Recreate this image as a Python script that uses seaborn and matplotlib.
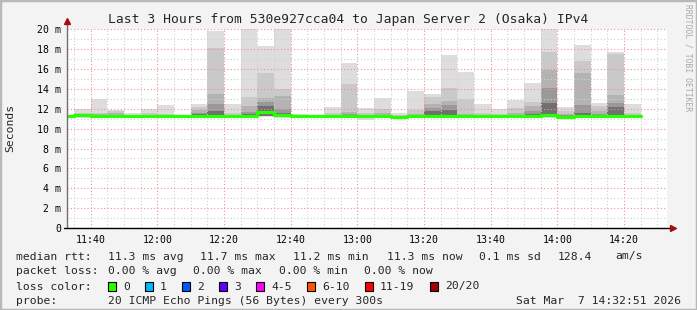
import matplotlib
matplotlib.use("Agg")
import matplotlib.pyplot as plt
from matplotlib.patches import Rectangle
from matplotlib.ticker import FixedLocator, MultipleLocator
import numpy as np
import pandas as pd
import seaborn as sns

# ---------------- data ----------------
first_slot = "11:30"          # 5-minute slots, 20 pings each
slot_minutes = 5
x_start = "11:32:51"
x_end = "14:32:51"
x_tick_labels = ["11:40", "12:00", "12:20", "12:40", "13:00", "13:20", "13:40", "14:00", "14:20"]
y_ticks = [0, 2, 4, 6, 8, 10, 12, 14, 16, 18, 20]
y_tick_labels = ["0", "2 m", "4 m", "6 m", "8 m", "10 m", "12 m", "14 m", "16 m", "18 m", "20 m"]

median_rtt = [11.30, 11.33, 11.27, 11.26, 11.26, 11.30, 11.25, 11.26, 11.26, 11.30,
              11.26, 11.30, 11.65, 11.35, 11.25, 11.25, 11.26, 11.26, 11.28, 11.26,
              11.22, 11.26, 11.27, 11.27, 11.26, 11.26, 11.26, 11.26, 11.27, 11.42,
              11.22, 11.26, 11.26, 11.30, 11.28]
ping_max = [11.40, 12.00, 12.95, 11.85, 11.55, 12.00, 12.35, 11.35, 12.45, 19.80,
            12.45, 20.50, 18.30, 20.50, 11.50, 11.35, 12.15, 16.60, 12.05, 13.05,
            11.60, 13.80, 13.50, 17.40, 15.70, 12.45, 12.00, 12.85, 14.60, 20.50,
            12.15, 18.40, 12.55, 17.75, 12.45]
smoke_band2 = [11.35, 11.55, 11.60, 11.75, 11.40, 11.55, 11.45, 11.30, 12.20, 18.10,
               11.55, 13.20, 15.60, 13.95, 11.35, 11.30, 11.60, 14.45, 11.55, 12.00,
               11.40, 11.85, 13.20, 14.10, 13.00, 11.60, 11.50, 12.10, 12.65, 17.75,
               11.75, 16.80, 12.25, 17.55, 11.60]
smoke_band3 = [11.32, 11.42, 11.45, 11.55, 11.32, 11.40, 11.35, 11.28, 11.85, 13.45,
               11.40, 12.30, 13.05, 13.30, 11.30, 11.28, 11.40, 11.70, 11.40, 11.55,
               11.30, 11.50, 12.45, 12.75, 11.50, 11.40, 11.35, 11.60, 12.30, 15.95,
               11.50, 15.60, 11.75, 13.35, 11.40]
smoke_band4 = [11.31, 11.36, 11.36, 11.40, 11.28, 11.34, 11.30, 11.27, 11.60, 12.45,
               11.32, 11.70, 12.70, 12.00, 11.27, 11.26, 11.32, 11.45, 11.33, 11.40,
               11.25, 11.38, 12.10, 12.35, 11.38, 11.32, 11.30, 11.40, 11.80, 14.10,
               11.35, 12.35, 11.50, 12.60, 11.34]
smoke_band5 = [11.30, 11.34, 11.30, 11.32, 11.27, 11.32, 11.27, 11.26, 11.45, 11.80,
               11.28, 11.45, 12.30, 11.60, 11.26, 11.25, 11.28, 11.32, 11.30, 11.30,
               11.23, 11.30, 11.75, 11.85, 11.30, 11.28, 11.27, 11.30, 11.50, 12.60,
               11.25, 11.60, 11.35, 12.20, 11.30]
ping_min = [11.10, 11.10, 11.05, 11.05, 11.10, 11.10, 11.10, 11.10, 11.05, 11.05,
            11.10, 11.05, 11.15, 11.05, 11.10, 11.10, 11.10, 11.05, 10.85, 11.05,
            11.10, 11.05, 11.05, 11.05, 11.05, 11.10, 11.05, 11.05, 11.05, 11.05,
            11.10, 11.05, 11.05, 11.05, 11.10]
smoke_inner_low = [11.20, 11.20, 11.18, 11.18, 11.20, 11.20, 11.18, 11.20, 11.18, 11.18,
                   11.20, 11.18, 11.30, 11.18, 11.20, 11.20, 11.20, 11.18, 11.15, 11.18,
                   11.15, 11.18, 11.18, 11.18, 11.18, 11.20, 11.18, 11.18, 11.18, 11.20,
                   11.15, 11.18, 11.18, 11.18, 11.20]

loss_labels = ["0", "1", "2", "3", "4-5", "6-10", "11-19", "20/20"]
loss_colors = ["#26ff00", "#00b8ff", "#0059ff", "#5e00ff", "#ff00ff", "#ff5500", "#ff0000", "#a10000"]

title = "Last 3 Hours from 530e927cca04 to Japan Server 2 (Osaka) IPv4"
stats_rtt = ["median rtt:", "11.3 ms avg", "11.7 ms max", "11.2 ms min", "11.3 ms now", "0.1 ms sd", "128.4", "am/s"]
stats_loss = ["packet loss:", "0.00 % avg", "0.00 % max", "0.00 % min", "0.00 % now"]
probe_text = ["probe:", "20 ICMP Echo Pings (56 Bytes) every 300s", "Sat Mar  7 14:32:51 2026"]


def to_min(s):
    parts = [float(p) for p in s.split(":")]
    return parts[0] * 60 + parts[1] + (parts[2] / 60 if len(parts) > 2 else 0)


n = len(median_rtt)
slot_x = np.array([to_min(first_slot) + slot_minutes * i for i in range(n)])

# ---------------- figure ----------------
W, H = 697, 310
sns.set_style("white")
plt.rcParams["font.family"] = ["DejaVu Sans Mono", "DejaVu Sans"]
fig = plt.figure(figsize=(W / 100, H / 100), dpi=100)
fig.patch.set_facecolor("#f3f3f3")

def fx(px):
    return px / W

def fy(py):
    return 1 - py / H

ax = fig.add_axes([fx(67), fy(228), 600 / W, (228 - 29.3) / H])
ax.set_facecolor("white")

layers = [
    (ping_min, ping_max, "#dddddd"),
    (smoke_inner_low, smoke_band2, "#c9c9c9"),
    (smoke_inner_low, smoke_band3, "#b3b3b3"),
    (smoke_inner_low, smoke_band4, "#999999"),
    (smoke_inner_low, smoke_band5, "#707070"),
]
for lo, hi, col in layers:
    lo = np.array(lo); hi = np.array(hi)
    ax.bar(slot_x, hi - lo, bottom=lo, width=slot_minutes, align="edge",
           color=col, linewidth=0, zorder=1)

df = pd.DataFrame({
    "t": list(slot_x) + [slot_x[-1] + slot_minutes],
    "rtt": list(median_rtt) + [median_rtt[-1]],
})
sns.lineplot(data=df, x="t", y="rtt", ax=ax, color="#26ff00", lw=2.3,
             drawstyle="steps-post", zorder=4, estimator=None)

ax.set_xlim(to_min(x_start), to_min(x_end))
ax.set_ylim(0, 20)
ax.xaxis.set_major_locator(FixedLocator([to_min(t) for t in x_tick_labels]))
ax.set_xticklabels(x_tick_labels)
ax.xaxis.set_minor_locator(MultipleLocator(5))
ax.set_yticks(y_ticks)
ax.set_yticklabels(y_tick_labels)
ax.yaxis.set_minor_locator(MultipleLocator(1))
ax.set_xlabel("")
ax.set_ylabel("")

ax.set_axisbelow(False)
ax.grid(which="minor", color="#cfcfcf", linestyle=(0, (1, 2)), lw=0.8)
ax.grid(which="major", color="#f09090", linestyle=(0, (1, 2)), lw=0.8)
ax.tick_params(axis="both", which="both", length=0, labelsize=7.1, colors="black")
ax.tick_params(axis="x", pad=5)
ax.tick_params(axis="y", pad=4)

for s in ["top", "right", "left", "bottom"]:
    ax.spines[s].set_visible(False)
# axes lines with arrows
ax.plot([0, 0], [0, 1.03], transform=ax.transAxes, color="#707070", lw=1, clip_on=False, zorder=5)
ax.plot([-0.005, 1.008], [0, 0], transform=ax.transAxes, color="black", lw=1, clip_on=False, zorder=5)
ax.plot([0], [1.04], marker="^", ms=4, color="#a01010", transform=ax.transAxes, clip_on=False, zorder=6)
ax.plot([1.01], [0], marker=">", ms=4, color="#a01010", transform=ax.transAxes, clip_on=False, zorder=6)

# ---------------- texts ----------------
fig.text(0.5, fy(19), title, ha="center", va="center", fontsize=9.4)
fig.text(fx(10), fy(128), "Seconds", rotation=90, ha="center", va="center", fontsize=8.2)
fig.text(fx(688), fy(58), "RRDTOOL / TOBI OETIKER", rotation=270, ha="center", va="center",
         fontsize=5.8, color="#a8a8a8")

fs = 8.2
row_y = [256.5, 271.5, 286.5, 301.5]
rtt_x = [16, 108, 200, 293, 387, 479, 558, 615]
for txt, px in zip(stats_rtt, rtt_x):
    fig.text(fx(px), fy(row_y[0]), txt, ha="left", va="center", fontsize=fs)
loss_x = [16, 108, 193, 279, 364]
for txt, px in zip(stats_loss, loss_x):
    fig.text(fx(px), fy(row_y[1]), txt, ha="left", va="center", fontsize=fs)
fig.text(fx(16), fy(row_y[2]), "loss color:", ha="left", va="center", fontsize=fs)
box_x = [108, 145, 182, 219, 256, 307, 365, 430]
for lab, col, bx in zip(loss_labels, loss_colors, box_x):
    fig.add_artist(Rectangle((fx(bx), fy(row_y[2] + 4.5)), 8 / W, 9 / H,
                             transform=fig.transFigure, facecolor=col,
                             edgecolor="black", lw=0.8))
    fig.text(fx(bx + 15), fy(row_y[2]), lab, ha="left", va="center", fontsize=fs)
fig.text(fx(16), fy(row_y[3]), probe_text[0], ha="left", va="center", fontsize=fs)
fig.text(fx(108), fy(row_y[3]), probe_text[1], ha="left", va="center", fontsize=fs)
fig.text(fx(681), fy(row_y[3]), probe_text[2], ha="right", va="center", fontsize=fs)

# frame
fig.add_artist(Rectangle((0, 0), 1, 1, transform=fig.transFigure, fill=False,
                         edgecolor="#b8b8b8", lw=2.5))

fig.savefig("out.png", dpi=100, facecolor=fig.get_facecolor())
